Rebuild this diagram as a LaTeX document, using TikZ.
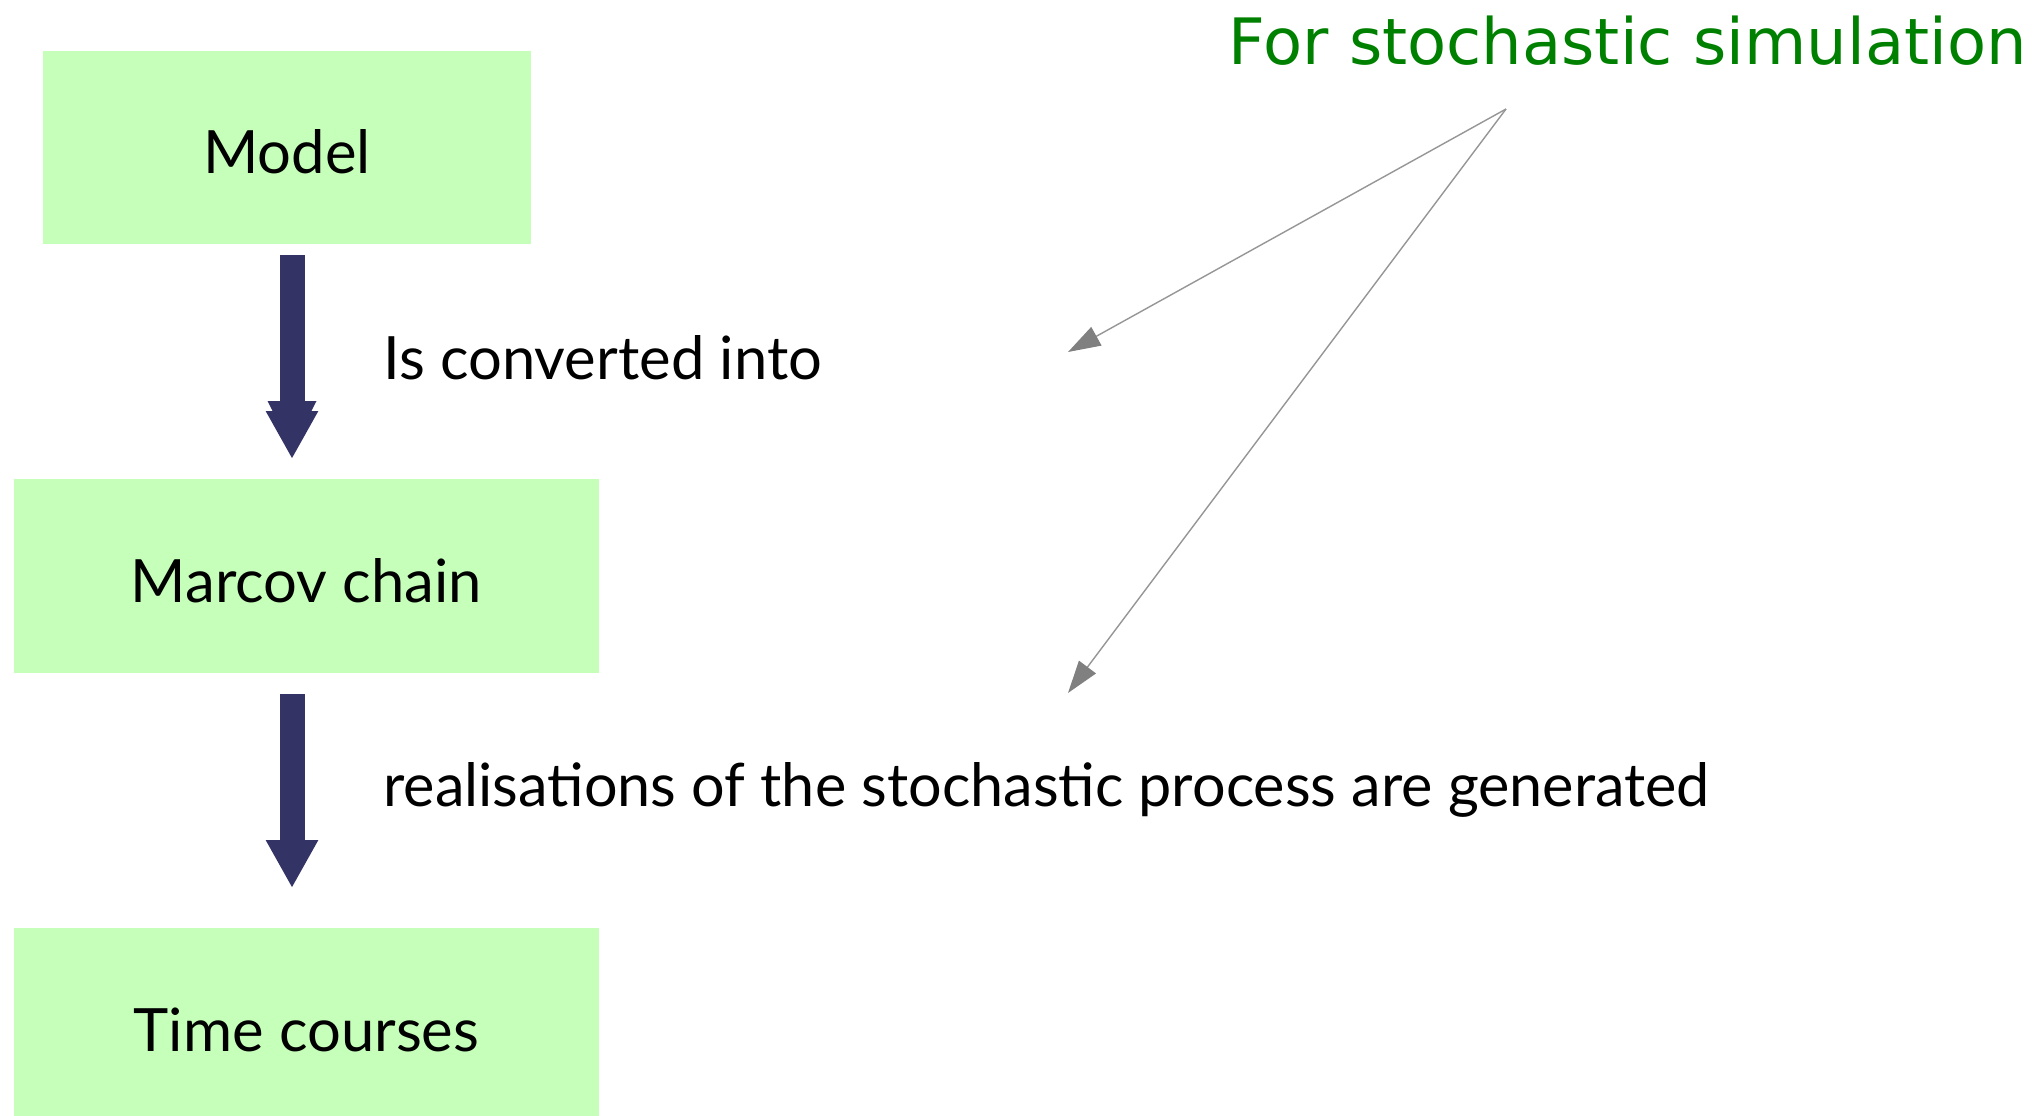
\documentclass[tikz,border=0pt]{standalone}
\usepackage{fontspec}
\setmainfont{Lato}
\newfontfamily\simfont{DejaVu Sans}
\usetikzlibrary{arrows.meta}
\definecolor{boxgreen}{RGB}{198,255,186}
\definecolor{arrowblue}{RGB}{51,51,102}
\definecolor{simgreen}{RGB}{0,128,0}
\definecolor{pointergray}{RGB}{128,128,128}
\definecolor{pointerline}{RGB}{150,150,150}
\tikzset{
  box/.style={fill=boxgreen, draw=none, inner sep=0pt, text height=1.04cm, text depth=0pt,
    font=\fontsize{34}{40}\selectfont},
  lbl/.style={inner sep=0pt, anchor=base west, font=\fontsize{34}{40}\selectfont},
  bigarrow/.style={draw=arrowblue, line width=0.5cm, -{Triangle[length=0.96cm,width=0.98cm,fill=arrowblue,color=arrowblue]}},
  pointer/.style={draw=pointerline, line width=0.8pt, -{Triangle[length=0.65cm,width=0.42cm,fill=pointergray,color=pointergray]}},
}
\begin{document}
\begin{tikzpicture}[x=0.02cm,y=-0.02cm]
\useasboundingbox (0,0) rectangle (2034,1115);
% boxes
\node[box, minimum width=9.76cm, minimum height=3.86cm] (model) at (287,147.5) {Model};
\node[box, minimum width=11.7cm, minimum height=3.88cm] (markov) at (306.5,576) {Marcov chain};
\node[box, minimum width=11.7cm, minimum height=3.88cm] (time) at (306.5,1025) {Time courses};
% labels
\node[lbl] (conv) at (383,379) {Is converted into};
\node[lbl] (real) at (383,806) {\scalebox{0.993}[1]{realisations of the stochastic process are generated}};
\node[inner sep=0pt, anchor=base east, text=simgreen, font=\simfont\fontsize{36.4}{40}\selectfont] (sim) at (2027,65) {For stochastic simulation};
% big arrows
\coordinate (a1s) at (292,255);
\coordinate (a1e) at (292,459);
\coordinate (a2s) at (292,694);
\coordinate (a2e) at (292,888);
\fill[arrowblue] (267.5,401) -- (316.5,401) -- (292,449) -- cycle;
\draw[bigarrow] (a1s) -- (a1e);
\draw[bigarrow] (a2s) -- (a2e);
% pointers
\coordinate (ps) at (1506,109);
\coordinate (pe1) at (1068,352);
\coordinate (pe2) at (1068,693);
\draw[pointer] (ps) -- (pe1);
\draw[pointer] (ps) -- (pe2);
\end{tikzpicture}
\end{document}
